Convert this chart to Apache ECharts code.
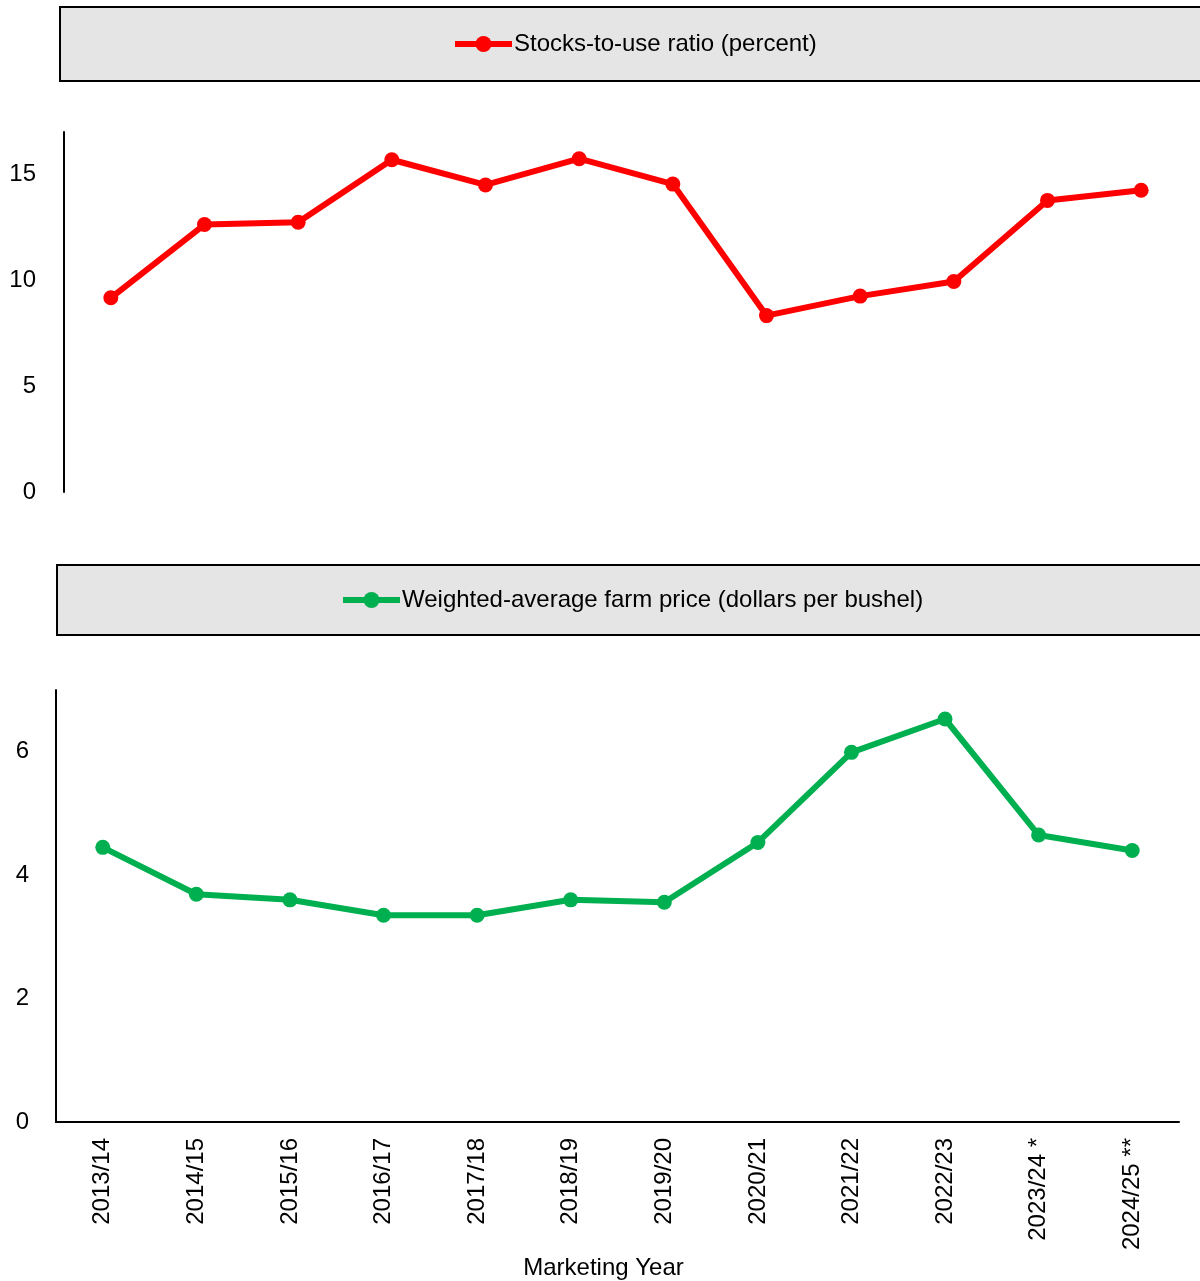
<!DOCTYPE html>
<html>
<head>
<meta charset="utf-8">
<script src="https://cdn.jsdelivr.net/npm/echarts@6/dist/echarts.min.js"></script>
<style>html,body{margin:0;padding:0;background:#fff;}#c{width:1200px;height:1281px;}</style>
</head>
<body>
<div id="c"></div>
<script>
const categories = ['2013/14','2014/15','2015/16','2016/17','2017/18','2018/19','2019/20','2020/21','2021/22','2022/23','2023/24 *','2024/25 **'];
const stocksToUse = [9.17, 12.63, 12.74, 15.69, 14.5, 15.74, 14.54, 8.33, 9.25, 9.94, 13.77, 14.25];
const farmPrice = [4.45, 3.69, 3.6, 3.35, 3.35, 3.6, 3.56, 4.53, 5.99, 6.53, 4.65, 4.40];
const stocksName = 'Stocks-to-use ratio (percent)';
const priceName = 'Weighted-average farm price (dollars per bushel)';
const topTicks = [0, 5, 10, 15];
const bottomTicks = [0, 2, 4, 6];

const FONT = 'Liberation Sans, Arial, sans-serif';
const chart = echarts.init(document.getElementById('c'), null, {renderer: 'canvas'});
const txt = {color: '#000', fontFamily: FONT, fontSize: 24};

chart.setOption({
  animation: false,
  backgroundColor: '#fff',
  graphic: [
    {type: 'rect', shape: {x: 60, y: 7, width: 1160, height: 74}, style: {fill: '#e5e5e5', stroke: '#000', lineWidth: 2}, z: -1},
    {type: 'rect', shape: {x: 57, y: 565, width: 1163, height: 70}, style: {fill: '#e5e5e5', stroke: '#000', lineWidth: 2}, z: -1}
  ],
  legend: [
    {data: [stocksName], left: 447, top: 27, itemWidth: 57, itemHeight: 20, itemGap: 0,
     lineStyle: {width: 6}, textStyle: Object.assign({}, txt, {padding: [0,0,0,-3]})},
    {data: [priceName], left: 335, top: 583, itemWidth: 57, itemHeight: 20, itemGap: 0,
     lineStyle: {width: 6}, textStyle: Object.assign({}, txt, {padding: [0,0,0,-3]})}
  ],
  grid: [
    {left: 64, top: 132, width: 1124, height: 360, containLabel: false},
    {left: 56, top: 690, width: 1123, height: 433, containLabel: false}
  ],
  xAxis: [
    {type: 'category', gridIndex: 0, data: categories, show: false, boundaryGap: true},
    {type: 'category', gridIndex: 1, data: categories, boundaryGap: true,
     axisLine: {lineStyle: {color: '#000', width: 2}}, axisTick: {show: false},
     axisLabel: Object.assign({}, txt, {rotate: 90, margin: 16, interval: 0}),
     name: 'Marketing Year', nameLocation: 'middle', nameGap: 134,
     nameTextStyle: Object.assign({}, txt, {padding: [0, 28, 0, 0]})}
  ],
  yAxis: [
    {type: 'value', gridIndex: 0, min: topTicks[0], max: 17, interval: topTicks[1] - topTicks[0],
     axisLine: {show: true, lineStyle: {color: '#000', width: 2}}, axisTick: {show: false},
     splitLine: {show: false}, axisLabel: Object.assign({}, txt, {margin: 28, showMaxLabel: false})},
    {type: 'value', gridIndex: 1, min: bottomTicks[0], max: 7, interval: bottomTicks[1] - bottomTicks[0],
     axisLine: {show: true, lineStyle: {color: '#000', width: 2}}, axisTick: {show: false},
     splitLine: {show: false}, axisLabel: Object.assign({}, txt, {margin: 27, showMaxLabel: false})}
  ],
  series: [
    {name: stocksName, type: 'line', xAxisIndex: 0, yAxisIndex: 0, data: stocksToUse,
     symbol: 'circle', symbolSize: 15, color: '#ff0000',
     lineStyle: {color: '#ff0000', width: 6}, itemStyle: {color: '#ff0000'}},
    {name: priceName, type: 'line', xAxisIndex: 1, yAxisIndex: 1, data: farmPrice,
     symbol: 'circle', symbolSize: 15, color: '#00b050',
     lineStyle: {color: '#00b050', width: 6}, itemStyle: {color: '#00b050'}}
  ]
});
</script>
</body>
</html>
